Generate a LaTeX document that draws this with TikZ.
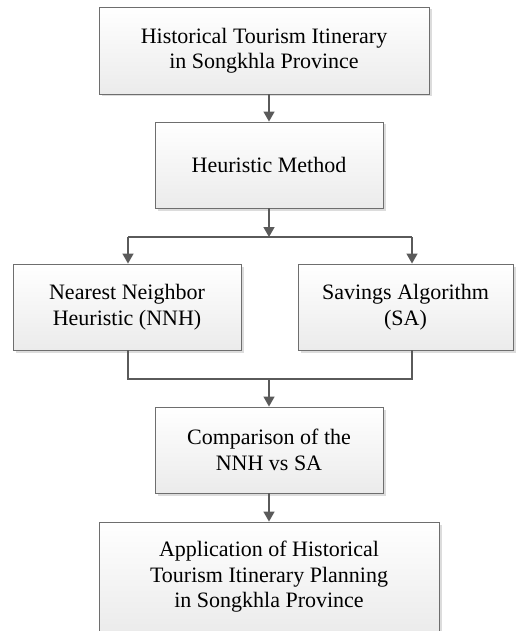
\documentclass[tikz,border=0pt]{standalone}
\usepackage{fontspec}
\setmainfont{Liberation Serif}
\usetikzlibrary{arrows.meta,shadows}
\definecolor{boxline}{HTML}{6E6E6E}
\definecolor{boxbot}{HTML}{EBEBEB}
\definecolor{linecol}{HTML}{5A5A5A}
\definecolor{shadowcol}{HTML}{DCDCDC}
\begin{document}
\begin{tikzpicture}[x=1pt,y=1pt,
  box/.style={rectangle, draw=boxline, line width=0.9pt, top color=white, bottom color=boxbot,
    inner sep=0pt, align=center, font=\fontsize{22}{25.5}\selectfont,
    drop shadow={shadow xshift=2.5pt, shadow yshift=-2.5pt, fill=shadowcol, opacity=1}},
  conn/.style={draw=linecol, line width=1.4pt},
  arr/.style={conn, -{Triangle[length=10pt,width=11pt]}}]
\useasboundingbox (0,0) rectangle (515,-631);

\node[box, minimum width=330pt, minimum height=87pt] (top) at (264,-50.5)
  {Historical Tourism Itinerary\\in Songkhla Province};
\node[box, minimum width=228pt, minimum height=86pt] (heur) at (269,-165)
  {Heuristic Method};
\node[box, minimum width=228pt, minimum height=86pt] (nnh) at (127,-307)
  {Nearest Neighbor\\Heuristic (NNH)};
\node[box, minimum width=215pt, minimum height=86pt] (sa) at (405.5,-307)
  {Savings Algorithm\\(SA)};
\node[box, minimum width=228pt, minimum height=86pt] (comp) at (269,-450)
  {Comparison of the\\NNH vs SA};
\node[box, minimum width=340pt, minimum height=110pt] (app) at (269,-577)
  {Application of Historical\\Tourism Itinerary Planning\\in Songkhla Province};

\coordinate (jL) at (128,-237);
\coordinate (jR) at (412,-237);
\coordinate (jM) at (269,-237);
\coordinate (mL) at (128,-379);
\coordinate (mR) at (412,-379);
\coordinate (mM) at (269,-379);

\draw[arr] (top.south -| heur.north) -- (heur.north);
\draw[arr] (heur.south) -- (jM);
\draw[conn] (jL) -- (jR);
\draw[arr] (jL) -- (jL |- nnh.north);
\draw[arr] (jR) -- (jR |- sa.north);
\draw[conn] (nnh.south -| jL) -- (mL) -- (mR) -- (sa.south -| jR);
\draw[arr] (mM) -- (comp.north);
\draw[arr] (comp.south) -- (app.north);
\end{tikzpicture}
\end{document}
